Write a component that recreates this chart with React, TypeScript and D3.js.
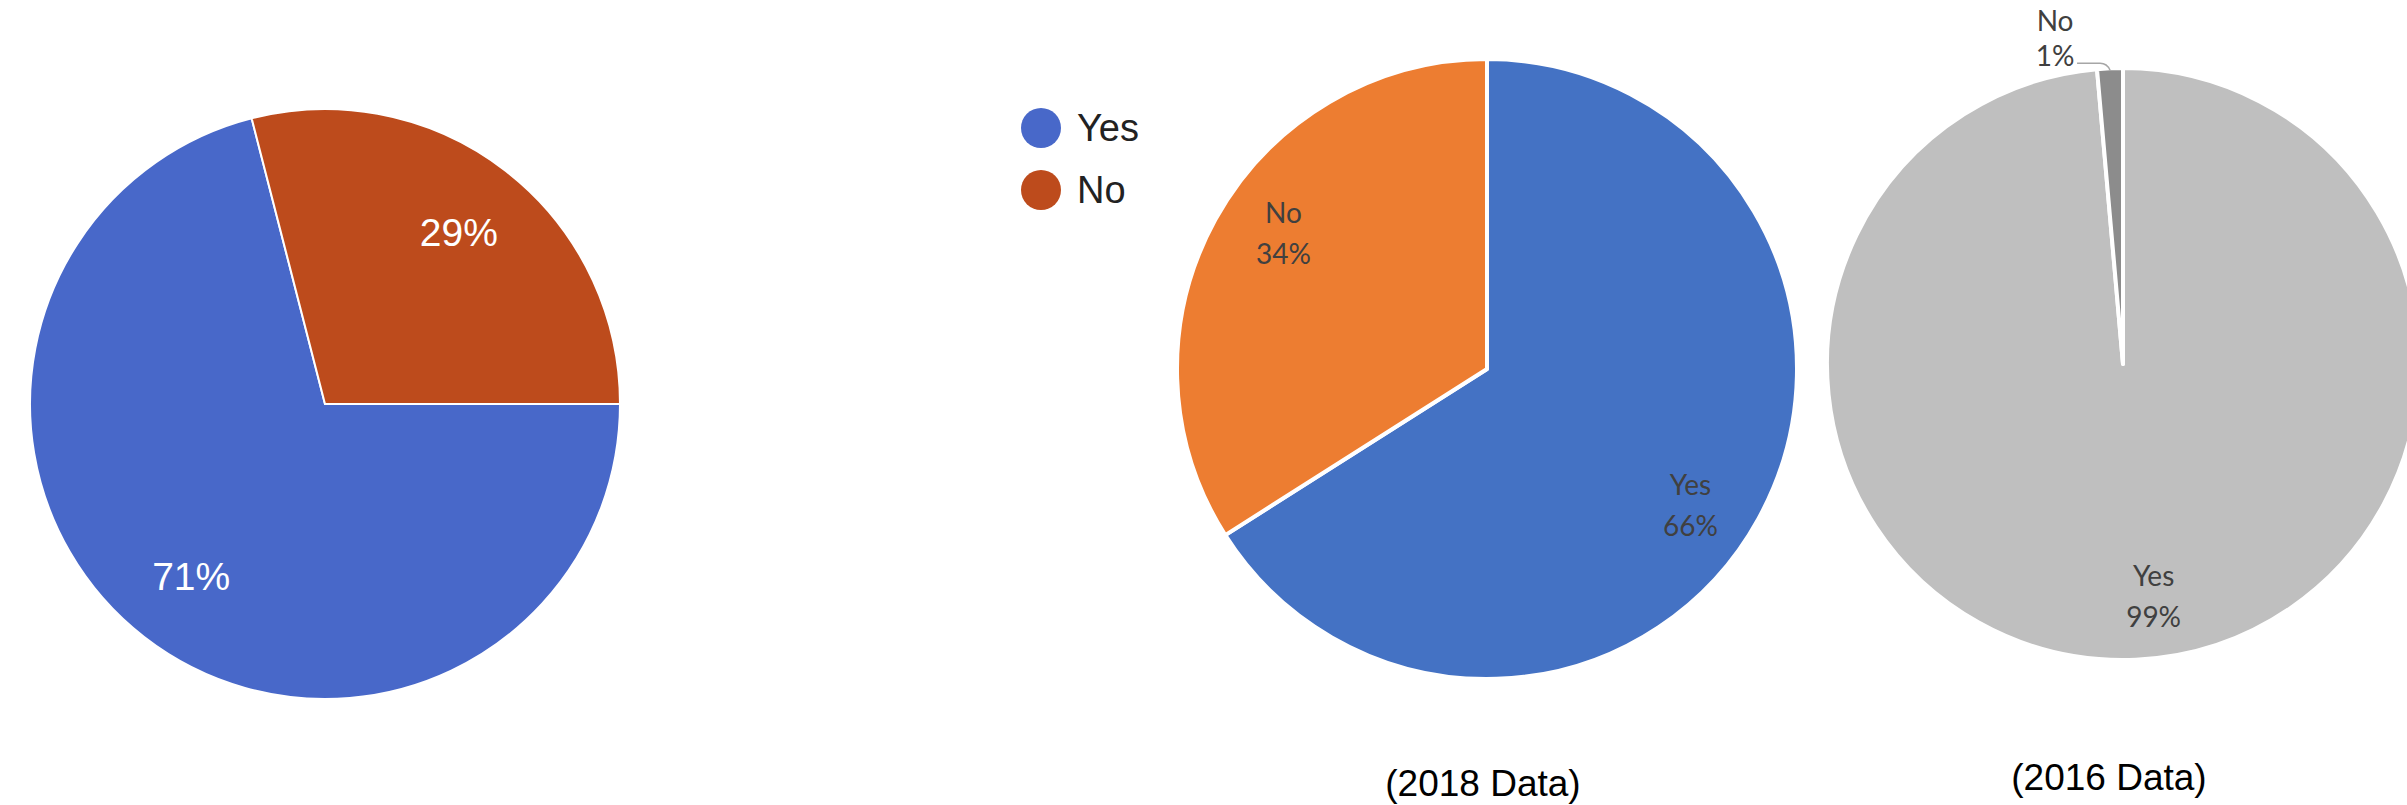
import React from 'react';
import * as d3 from 'd3';

// answers + shares
const answers = ['Yes', 'No'];
const formsShares = [71, 29];
const shares2018 = [66, 34];
const shares2016 = [98.6, 1.4];
const captions = ['(2018 Data)', '(2016 Data)'];

const formsColors = ['#4868c9', '#bd4b1c'];
const excelColors = ['#4472c4', '#ed7d31'];
const greyColors = ['#bfbfbf', '#8c8c8c'];

const W = 2407;
const H = 805;

const pct = (v: number, all: number[]) => `${Math.round((v / d3.sum(all)) * 100)}%`;

const makePie = (start: number) =>
    d3.pie<number>().sort(null).value((d) => d).startAngle(start).endAngle(start + Math.PI * 2);

const deg = Math.PI / 180;

// left chart, google forms look
const FormsPie = ({ cx, cy, r }) => {
    const slices = makePie(Math.PI / 2)(formsShares);
    const arc = d3.arc<any>().innerRadius(0).outerRadius(r);
    const labelArc = d3.arc<any>().innerRadius(r * 0.74).outerRadius(r * 0.74);
    return (
        <g transform={`translate(${cx},${cy})`}>
            {slices.map((s, i) => (
                <path key={i} d={arc(s)} fill={formsColors[i]} stroke="#fff" strokeWidth={2} />
            ))}
            {slices.map((s, i) => {
                const [x, y] = labelArc.centroid(s);
                return (
                    <text key={i} x={x} y={y + 14} textAnchor="middle" fill="#fff"
                        style={{ fontFamily: 'Liberation Sans, Arial, sans-serif', fontSize: 39 }}>
                        {pct(s.value, formsShares)}
                    </text>
                );
            })}
        </g>
    );
};

// excel style pies with "Yes / 66%" labels inside
const ExcelPie = ({ cx, cy, r, values, colors, turn = 0, outsideSmall = false }) => {
    const slices = makePie(0)(values);
    const arc = d3.arc<any>().innerRadius(0).outerRadius(r);
    const labelArc = d3.arc<any>().innerRadius(r * 0.79).outerRadius(r * 0.79);
    const edgeArc = d3.arc<any>().innerRadius(r - 2).outerRadius(r - 2);
    const font = { fontFamily: 'Lato, sans-serif', fontSize: 28 };
    return (
        <g transform={`translate(${cx},${cy})`}>
            {slices.map((s, i) => (
                <path key={i} d={arc(s)} fill={colors[i]} stroke="#fff" strokeWidth={4} strokeLinejoin="round" />
            ))}
            {slices.map((s, i) => {
                const small = outsideSmall && s.value / d3.sum(values) < 0.05;
                if (small) {
                    // tiny slice: label sits outside with a leader line
                    const [ex, ey] = edgeArc.centroid(s);
                    const ly = ey - 7;
                    const lx = ex - 33;
                    return (
                        <g key={i}>
                            <path d={`M${ex},${ey}Q${ex - 3},${ly} ${ex - 10},${ly}L${lx},${ly}`}
                                fill="none" stroke="#a6a6a6" strokeWidth={1.5} />
                            <text x={lx - 22} y={ly - 32} textAnchor="middle" fill="#404040" style={font}>{answers[i]}</text>
                            <text x={lx - 22} y={ly + 3} textAnchor="middle" fill="#404040" style={font}>{pct(s.value, values)}</text>
                        </g>
                    );
                }
                const [x, y] = labelArc.centroid({ ...s, startAngle: s.startAngle + turn * deg, endAngle: s.endAngle + turn * deg });
                return (
                    <g key={i} fill="#404040" style={font}>
                        <text x={x} y={y - 10} textAnchor="middle">{answers[i]}</text>
                        <text x={x} y={y + 31} textAnchor="middle">{pct(s.value, values)}</text>
                    </g>
                );
            })}
        </g>
    );
};

const Legend = ({ x, y }) => (
    <g transform={`translate(${x},${y})`}>
        {answers.map((a, i) => (
            <g key={a} transform={`translate(0,${i * 62})`}>
                <circle r={20} fill={formsColors[i]} />
                <text x={36} y={13} fill="#222" style={{ fontFamily: 'Liberation Sans, Arial, sans-serif', fontSize: 38 }}>{a}</text>
            </g>
        ))}
    </g>
);

export default function App() {
    const captionStyle = { fontFamily: 'Liberation Sans, Arial, sans-serif', fontSize: 37 };
    return (
        <svg width={W} height={H} style={{ position: 'absolute', left: 0, top: 0, background: '#fff' }}>
            <FormsPie cx={325} cy={404} r={295} />
            <Legend x={1041} y={128} />
            <ExcelPie cx={1487} cy={369} r={310} values={shares2018} colors={excelColors} turn={5} />
            <ExcelPie cx={2123} cy={364} r={296} values={shares2016} colors={greyColors} turn={-5} outsideSmall />
            <text x={1483} y={796} textAnchor="middle" fill="#000" style={captionStyle}>{captions[0]}</text>
            <text x={2109} y={790} textAnchor="middle" fill="#000" style={captionStyle}>{captions[1]}</text>
        </svg>
    );
}
